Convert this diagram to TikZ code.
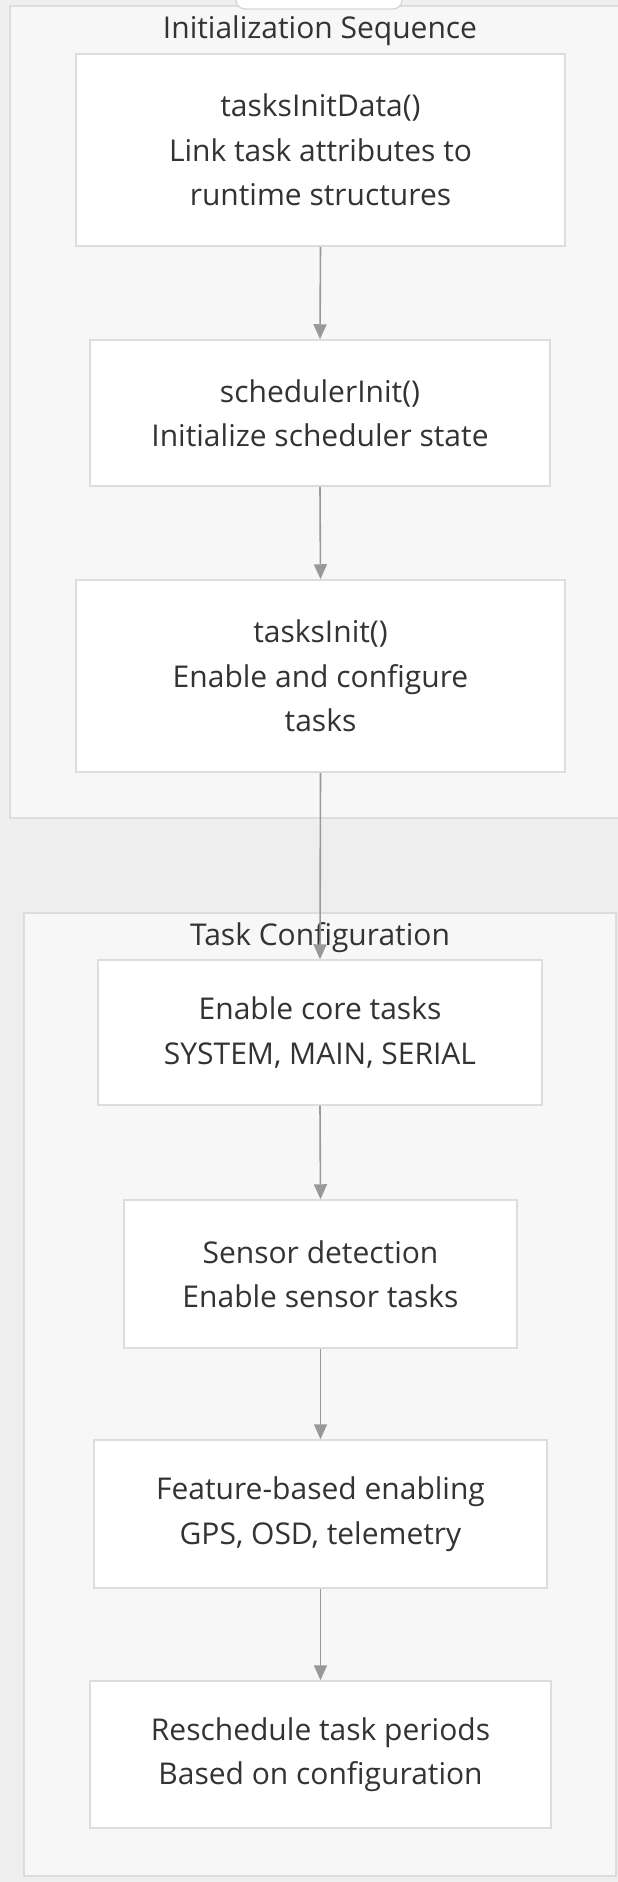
\documentclass[tikz,border=0pt]{standalone}
\usepackage{fontspec}
\setmainfont{Open Sans}
\usetikzlibrary{arrows.meta}
\definecolor{bgc}{HTML}{EEEEEE}
\definecolor{clfill}{HTML}{F7F7F7}
\definecolor{clline}{HTML}{DDDDDD}
\definecolor{tabline}{HTML}{D6D6D6}
\definecolor{txt}{HTML}{333333}
\definecolor{arr}{HTML}{999999}
\tikzset{
  box/.style={draw=clline, line width=1.5pt, fill=white, align=center, text=txt,
    font=\fontsize{30}{44.5}\selectfont, inner sep=0pt},
  cluster/.style={draw=clline, line width=1.5pt, fill=clfill, inner sep=0pt},
  ctitle/.style={text=txt, font=\fontsize{30}{34}\selectfont, inner sep=0pt},
  flow/.style={draw=arr, line width=1.6pt, -{Triangle[width=13pt,length=15pt]}},
}
\begin{document}
\begin{tikzpicture}[x=1pt,y=-1pt]
\useasboundingbox (0,0) rectangle (618,1882);
\clip (0,0) rectangle (618,1882);
\fill[bgc] (0,0) rectangle (618,1882);
% clusters
\node[cluster, minimum width=630pt, minimum height=812pt] (c1) at (325,412) {};
\node[cluster, minimum width=592pt, minimum height=963pt] (c2) at (320,1394.5) {};
% top tab (cut off)
\node[draw=tabline, line width=1.2pt, fill=white, rounded corners=9pt, minimum width=166pt, minimum height=40pt, inner sep=0pt] (tab) at (319,-11) {};
\node[ctitle] (t1) at (320,31) {Initialization Sequence};
\node[ctitle] (t2) at (320,938) {Task Configuration};
% nodes
\node[box, minimum width=489pt, minimum height=192pt] (n1) at (320.5,150) {tasksInitData()\\Link task attributes to\\runtime structures};
\node[box, minimum width=460pt, minimum height=146pt] (n2) at (320,413) {schedulerInit()\\Initialize scheduler state};
\node[box, minimum width=489pt, minimum height=192pt] (n3) at (320.5,676) {tasksInit()\\Enable and configure\\tasks};
\node[box, minimum width=444pt, minimum height=145pt] (n4) at (320,1032.5) {Enable core tasks\\SYSTEM, MAIN, SERIAL};
\node[box, minimum width=393pt, minimum height=148pt] (n5) at (320.5,1274) {Sensor detection\\Enable sensor tasks};
\node[box, minimum width=453pt, minimum height=148pt] (n6) at (320.5,1514) {Feature-based enabling\\GPS, OSD, telemetry};
\node[box, minimum width=461pt, minimum height=147pt] (n7) at (320.5,1754.5) {Reschedule task periods\\Based on configuration};
% connectors
\draw[flow] (n1.south) -- (n2.north);
\draw[flow] (n2.south) -- (n3.north);
\draw[flow] (n3.south) -- (n4.north);
\draw[flow] (n4.south) -- (n5.north);
\draw[flow] (n5.south) -- (n6.north);
\draw[flow] (n6.south) -- (n7.north);
\end{tikzpicture}
\end{document}
